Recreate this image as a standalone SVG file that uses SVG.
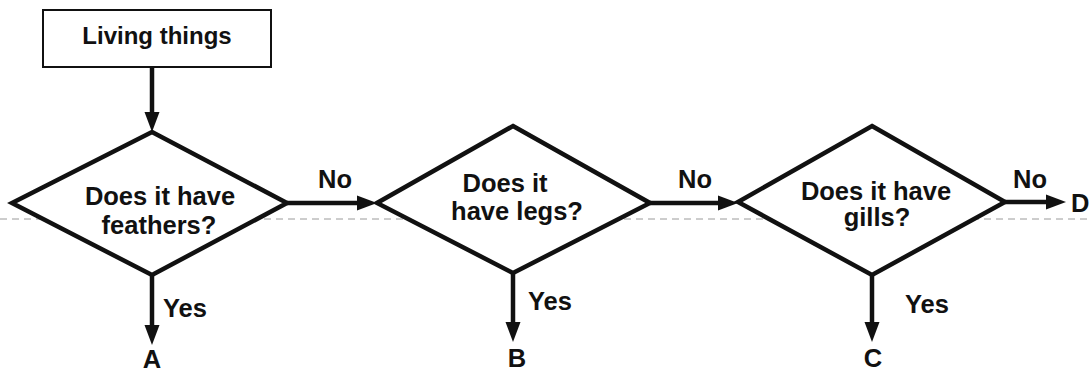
<svg xmlns="http://www.w3.org/2000/svg" width="1092" height="373" viewBox="0 0 1092 373">
<defs>
<style>
.t{font-family:"Liberation Sans",Arial,sans-serif;font-weight:bold;font-size:25.5px;fill:#111}
.m{text-anchor:middle}
.shape{fill:#fff;stroke:#111;stroke-width:4.5;stroke-linejoin:miter}
.box{fill:#fff;stroke:#111;stroke-width:2}
.conn{stroke:#111;stroke-width:4.5;fill:none}
</style>
<marker id="arr" markerUnits="userSpaceOnUse" markerWidth="22" markerHeight="18" refX="8" refY="9" orient="auto">
<path d="M0,1.5 L20,9 L0,16.5 z" fill="#111"/>
</marker>
</defs>
<rect width="1092" height="373" fill="#fff"/>
<line x1="0" y1="219" x2="1092" y2="219" stroke="#9a9a9a" stroke-width="1" stroke-dasharray="7 5"/>
<g id="connectors">
<line class="conn" x1="152" y1="67" x2="152" y2="120" marker-end="url(#arr)"/>
<line class="conn" x1="287" y1="203" x2="365" y2="203" marker-end="url(#arr)"/>
<line class="conn" x1="650" y1="203" x2="726" y2="203" marker-end="url(#arr)"/>
<line class="conn" x1="1005" y1="202" x2="1054" y2="202" marker-end="url(#arr)"/>
<line class="conn" x1="152" y1="275" x2="152" y2="333" marker-end="url(#arr)"/>
<line class="conn" x1="513" y1="273" x2="513" y2="330" marker-end="url(#arr)"/>
<line class="conn" x1="872" y1="275" x2="872" y2="330" marker-end="url(#arr)"/>
</g>
<g id="living-things">
<rect class="box" x="43" y="10" width="228" height="57"/>
<text class="t m" x="157" y="44" style="font-size:24px">Living things</text>
</g>
<g id="q-feathers">
<polygon class="shape" points="152,132 287,203 152,275 12,203"/>
<text class="t m" x="160" y="205">Does it have</text>
<text class="t m" x="159" y="234">feathers?</text>
</g>
<g id="q-legs">
<polygon class="shape" points="513,126 650,203 513,273 377,203"/>
<text class="t m" x="505" y="192">Does it</text>
<text class="t m" x="517" y="220">have legs?</text>
</g>
<g id="q-gills">
<polygon class="shape" points="872,126 1005,202 872,275 738,202"/>
<text class="t m" x="876" y="200">Does it have</text>
<text class="t m" x="877" y="226">gills?</text>
</g>
<g id="labels">
<text class="t" x="318" y="188">No</text>
<text class="t" x="678" y="188">No</text>
<text class="t" x="1013" y="188">No</text>
<text class="t" x="163" y="317">Yes</text>
<text class="t" x="528" y="310">Yes</text>
<text class="t" x="905" y="313">Yes</text>
</g>
<g id="A"><text class="t m" x="152" y="368">A</text></g>
<g id="B"><text class="t m" x="517" y="367">B</text></g>
<g id="C"><text class="t m" x="873" y="367">C</text></g>
<g id="D"><text class="t" x="1071" y="212">D</text></g>
</svg>
